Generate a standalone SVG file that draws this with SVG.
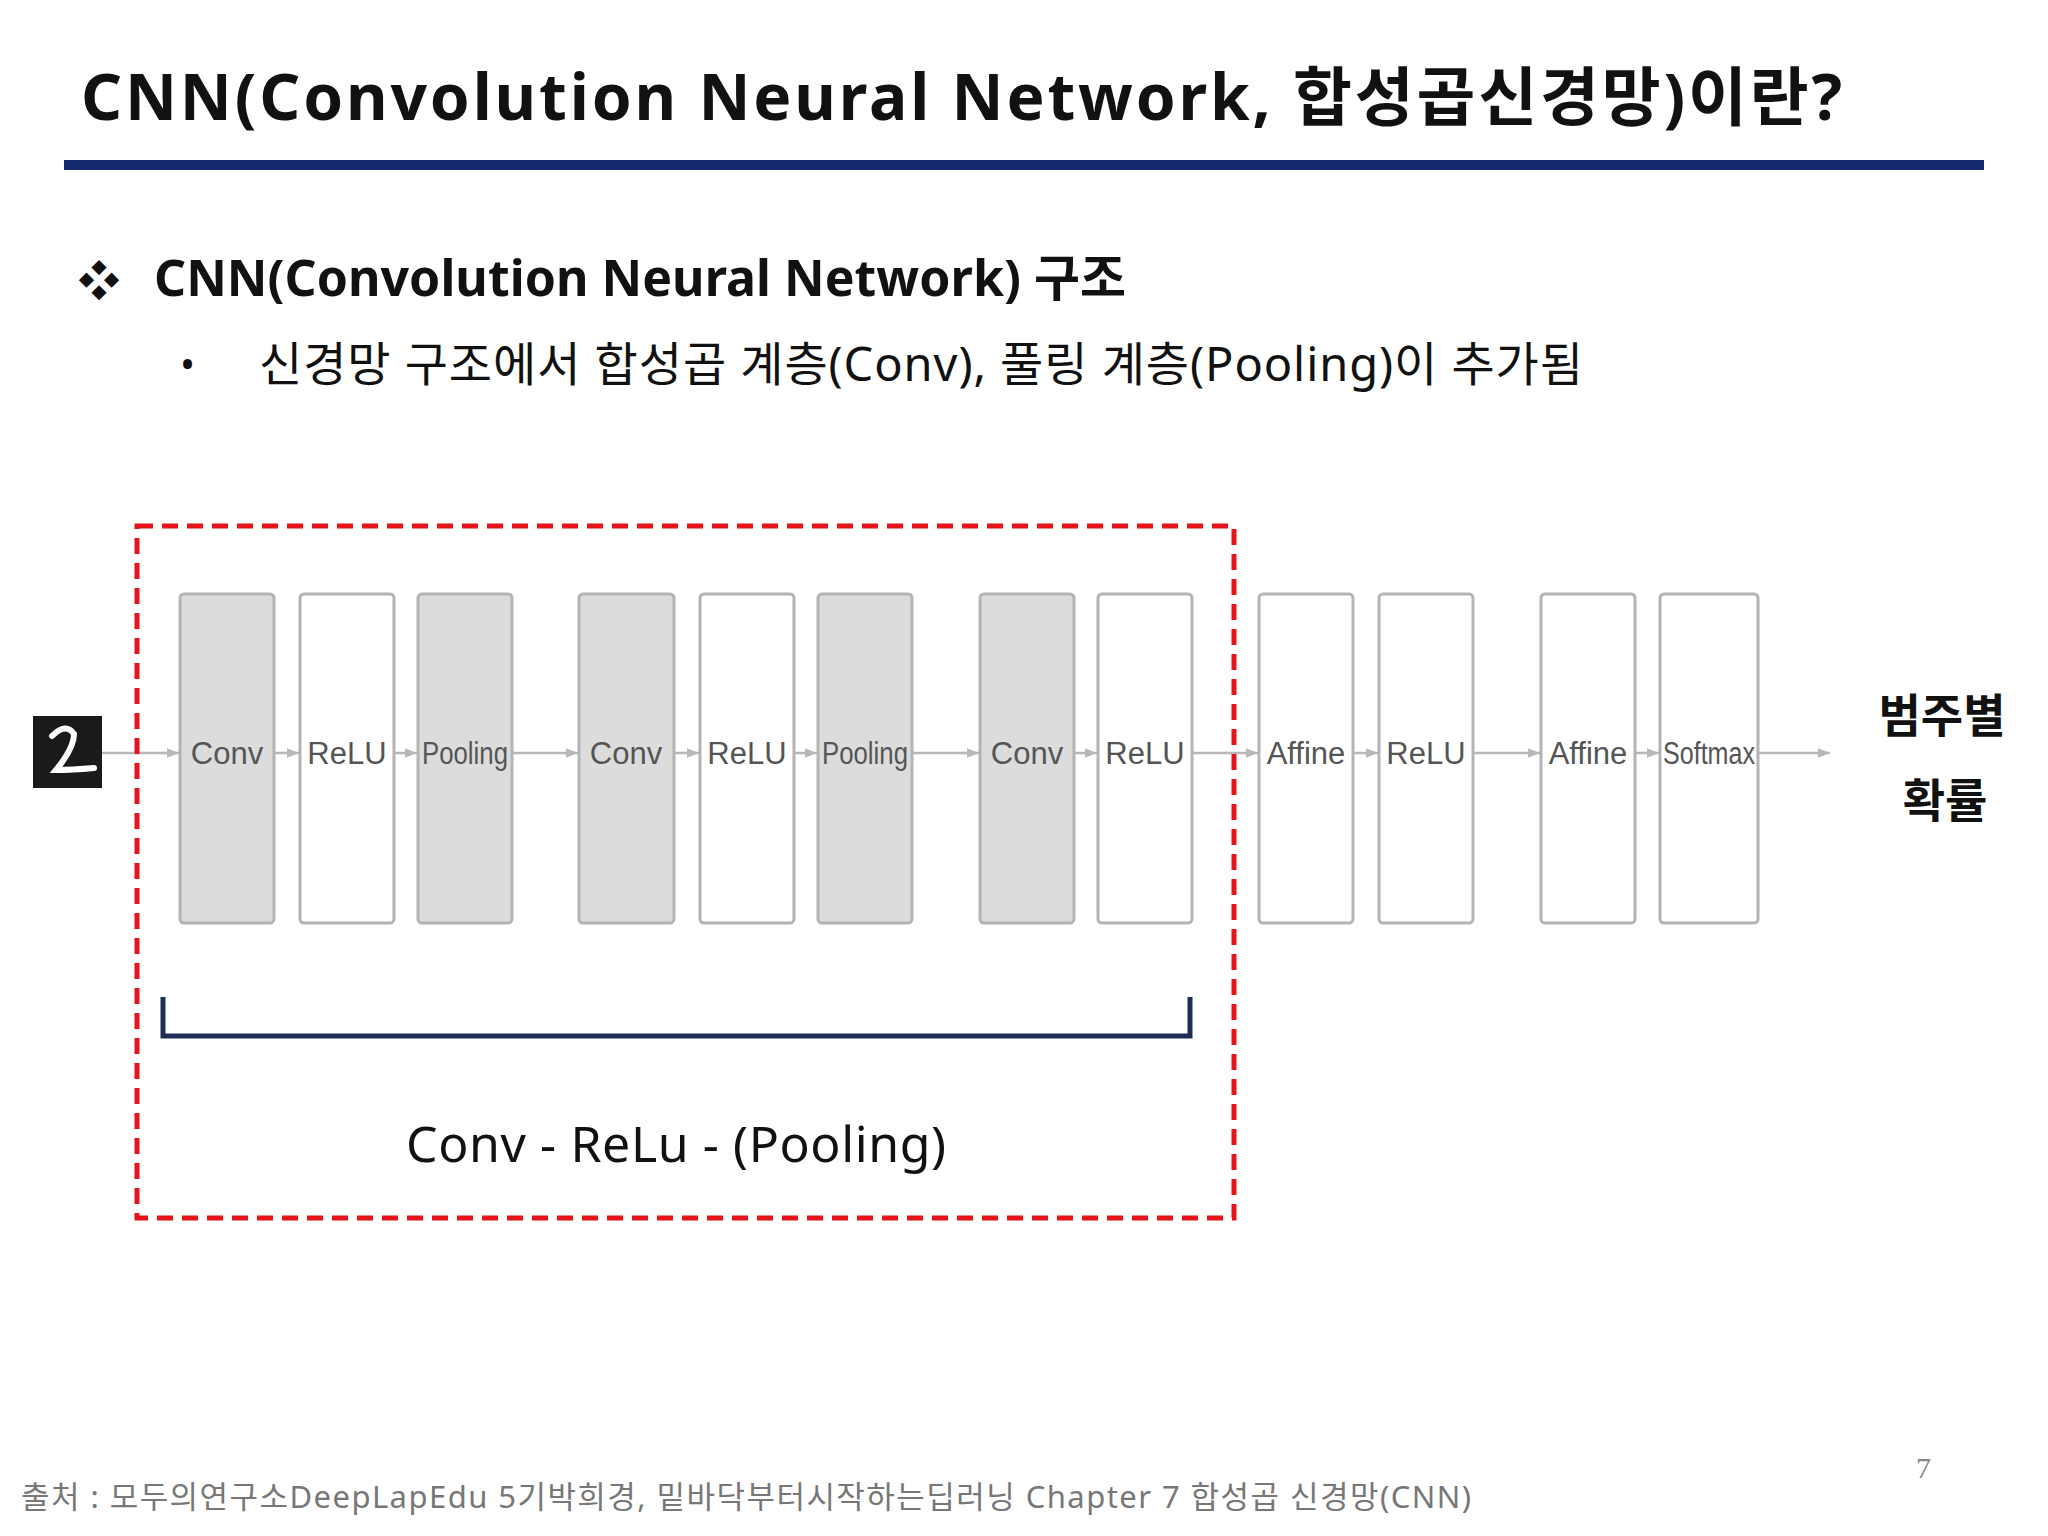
<svg xmlns="http://www.w3.org/2000/svg" width="2048" height="1536" viewBox="0 0 2048 1536">
<style>
.k{font-family:"Noto Sans","Noto Sans CJK KR",sans-serif}
.box{stroke:#b4b4b4;stroke-width:3}
.g{fill:#dcdcdc}.w{fill:#fff}
.lb{font-family:"Liberation Sans","Noto Sans",sans-serif;font-size:31px;fill:#555;text-anchor:middle}
.cn{stroke:#b8b8b8;stroke-width:2.5;fill:none;marker-end:url(#a)}
</style>
<defs><marker id="a" viewBox="0 0 10 10" refX="10" refY="5" markerWidth="5" markerHeight="5" orient="auto"><path d="M0,1 L10,5 L0,9z" fill="#b8b8b8"/></marker></defs>
<rect width="2048" height="1536" fill="#fff"/>
<text class="k" x="81" y="120" font-size="64" font-weight="bold" fill="#111" textLength="1761" lengthAdjust="spacing">CNN(Convolution Neural Network, 합성곱신경망)이란?</text>
<rect x="64" y="160" width="1920" height="10" fill="#14286e"/>
<text class="k" x="78" y="296" font-size="42" font-weight="bold" fill="#111">❖</text>
<text class="k" x="154" y="296" font-size="50" font-weight="bold" fill="#111" textLength="972" lengthAdjust="spacing">CNN(Convolution Neural Network) 구조</text>
<text class="k" x="180" y="379" font-size="40" fill="#111">•</text>
<text class="k" x="259" y="381" font-size="47" fill="#111" textLength="1324" lengthAdjust="spacing">신경망 구조에서 합성곱 계층(Conv), 풀링 계층(Pooling)이 추가됨</text>
<g id="input"><rect x="33" y="716" width="69" height="72" fill="#1a1a1a"/><path d="M52,736 Q66,722 74,734 Q74,748 56,770 Q72,770 94,768" stroke="#fff" stroke-width="6" fill="none" stroke-linecap="round"/></g>
<g id="connectors">
<line class="cn" x1="102" y1="753" x2="179" y2="753"/>
<line class="cn" x1="274" y1="753" x2="299" y2="753"/>
<line class="cn" x1="394" y1="753" x2="417" y2="753"/>
<line class="cn" x1="512" y1="753" x2="578" y2="753"/>
<line class="cn" x1="674" y1="753" x2="699" y2="753"/>
<line class="cn" x1="794" y1="753" x2="817" y2="753"/>
<line class="cn" x1="912" y1="753" x2="979" y2="753"/>
<line class="cn" x1="1074" y1="753" x2="1097" y2="753"/>
<line class="cn" x1="1192" y1="753" x2="1258" y2="753"/>
<line class="cn" x1="1353" y1="753" x2="1378" y2="753"/>
<line class="cn" x1="1473" y1="753" x2="1540" y2="753"/>
<line class="cn" x1="1635" y1="753" x2="1659" y2="753"/>
<line class="cn" x1="1758" y1="753" x2="1830" y2="753"/>
</g>
<g id="n1"><rect class="box g" x="180" y="594" width="94" height="329" rx="4"/><text class="lb" x="227" y="764">Conv</text></g>
<g id="n2"><rect class="box w" x="300" y="594" width="94" height="329" rx="4"/><text class="lb" x="347" y="764">ReLU</text></g>
<g id="n3"><rect class="box g" x="418" y="594" width="94" height="329" rx="4"/><text class="lb" x="465" y="764" textLength="86" lengthAdjust="spacingAndGlyphs">Pooling</text></g>
<g id="n4"><rect class="box g" x="579" y="594" width="95" height="329" rx="4"/><text class="lb" x="626" y="764">Conv</text></g>
<g id="n5"><rect class="box w" x="700" y="594" width="94" height="329" rx="4"/><text class="lb" x="747" y="764">ReLU</text></g>
<g id="n6"><rect class="box g" x="818" y="594" width="94" height="329" rx="4"/><text class="lb" x="865" y="764" textLength="86" lengthAdjust="spacingAndGlyphs">Pooling</text></g>
<g id="n7"><rect class="box g" x="980" y="594" width="94" height="329" rx="4"/><text class="lb" x="1027" y="764">Conv</text></g>
<g id="n8"><rect class="box w" x="1098" y="594" width="94" height="329" rx="4"/><text class="lb" x="1145" y="764">ReLU</text></g>
<g id="n9"><rect class="box w" x="1259" y="594" width="94" height="329" rx="4"/><text class="lb" x="1306" y="764">Affine</text></g>
<g id="n10"><rect class="box w" x="1379" y="594" width="94" height="329" rx="4"/><text class="lb" x="1426" y="764">ReLU</text></g>
<g id="n11"><rect class="box w" x="1541" y="594" width="94" height="329" rx="4"/><text class="lb" x="1588" y="764">Affine</text></g>
<g id="n12"><rect class="box w" x="1660" y="594" width="98" height="329" rx="4"/><text class="lb" x="1709" y="764" textLength="92" lengthAdjust="spacingAndGlyphs">Softmax</text></g>
<rect x="137" y="526" width="1097" height="692" fill="none" stroke="#e8141c" stroke-width="5" stroke-dasharray="16 9"/>
<path d="M163,997 V1036 H1190 V997" fill="none" stroke="#1e2d55" stroke-width="5"/>
<text class="k" x="406" y="1162" font-size="50" fill="#111" textLength="540" lengthAdjust="spacing">Conv - ReLu - (Pooling)</text>
<text class="k" x="1942" y="732" font-size="46" font-weight="bold" fill="#111" text-anchor="middle">범주별</text>
<text class="k" x="1945" y="817" font-size="46" font-weight="bold" fill="#111" text-anchor="middle">확률</text>
<text x="1916" y="1478" font-family="Liberation Serif,serif" font-size="30" fill="#888">7</text>
<text class="k" x="21" y="1508" font-size="31" fill="#777" textLength="1450" lengthAdjust="spacing">출처 : 모두의연구소DeepLapEdu 5기박희경, 밑바닥부터시작하는딥러닝 Chapter 7 합성곱 신경망(CNN)</text>
</svg>
